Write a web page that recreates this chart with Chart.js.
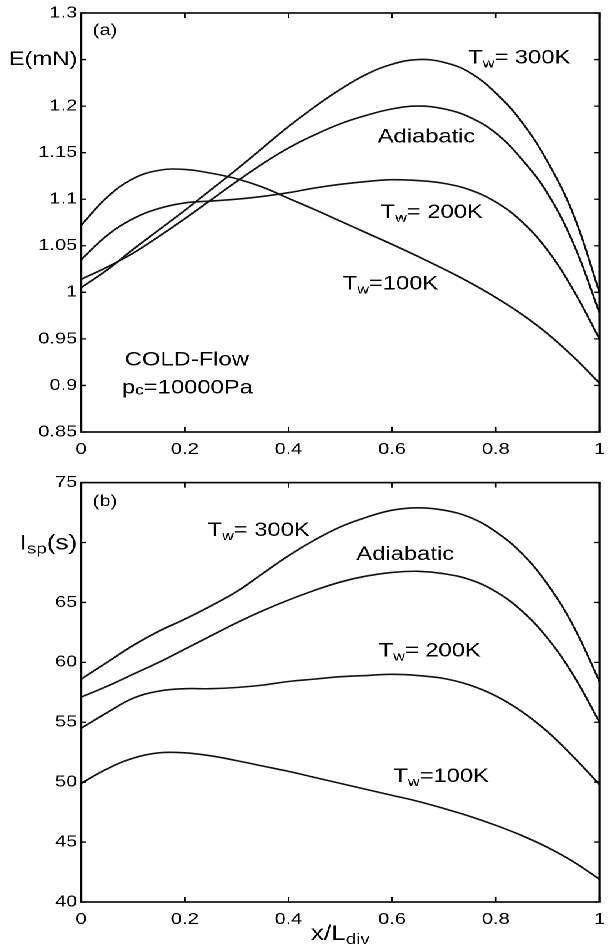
<!DOCTYPE html>
<html><head><meta charset="utf-8">
<script src="https://cdn.jsdelivr.net/npm/chart.js@4"></script>
<style>
html,body{margin:0;padding:0;background:#fff;width:615px;height:947px;overflow:hidden}
#wrap{position:absolute;left:0;top:0;width:492px;height:947px;transform:scaleX(1.25);transform-origin:0 0}
canvas{display:block}
</style></head><body>
<div id="wrap">
<canvas id="ca" style="width:492px;height:470px"></canvas>
<canvas id="cb" style="width:492px;height:477px"></canvas>
</div>
<script>
// ---------- data ----------
const xPos = [0,0.05,0.1,0.15,0.2,0.25,0.3,0.35,0.4,0.45,0.5,0.55,0.6,0.65,0.7,0.75,0.8,0.85,0.9,0.95,1];

// (a) thrust E (mN)
const thrustTw300 = [1.005,1.024,1.046,1.067,1.088,1.110,1.132,1.155,1.178,1.199,1.218,1.234,1.245,1.250,1.247,1.236,1.214,1.183,1.140,1.083,1.000];
const thrustAdiab = [1.014,1.027,1.042,1.060,1.079,1.099,1.119,1.138,1.155,1.169,1.181,1.190,1.197,1.200,1.197,1.188,1.171,1.143,1.106,1.052,0.978];
const thrustTw200 = [1.035,1.061,1.079,1.090,1.096,1.098,1.100,1.103,1.107,1.112,1.116,1.119,1.121,1.120,1.117,1.110,1.097,1.076,1.045,1.002,0.950];
const thrustTw100 = [1.072,1.102,1.122,1.131,1.132,1.128,1.122,1.113,1.101,1.089,1.0765,1.064,1.0515,1.0385,1.025,1.0105,0.9945,0.9765,0.9555,0.9305,0.9025];

// (b) specific impulse Isp (s)
const ispTw300 = [58.6,60.0,61.4,62.6,63.6,64.7,65.9,67.4,68.9,70.2,71.3,72.1,72.7,72.9,72.7,72.1,70.9,69.1,66.5,63.0,58.4];
const ispAdiab = [57.1,58.0,59.0,60.0,61.1,62.2,63.3,64.3,65.2,66.0,66.7,67.2,67.5,67.6,67.4,66.9,65.9,64.3,62.0,58.9,55.0];
const ispTw200 = [54.5,55.8,57.0,57.6,57.8,57.8,57.9,58.1,58.4,58.6,58.8,58.9,59.0,58.9,58.65,58.1,57.2,55.9,54.2,52.1,49.8];
const ispTw100 = [49.9,51.1,52.0,52.45,52.45,52.2,51.8,51.35,50.9,50.4,49.9,49.4,48.9,48.4,47.8,47.15,46.4,45.55,44.55,43.35,41.9];

// ticks
const xTickVals = [0,0.2,0.4,0.6,0.8,1];
const xTickLabels = ['0','0.2','0.4','0.6','0.8','1'];
const yTickValsA = [0.85,0.9,0.95,1,1.05,1.1,1.15,1.2,1.25,1.3];
const yTickLabelsA = ['0.85','0.9','0.95','1','1.05','1.1','1.15','1.2','E(mN)','1.3'];
const yTickValsB = [40,45,50,55,60,65,70,75];
const yTickLabelsB = ['40','45','50','55','60','65','','75'];

// ---------- styling ----------
const FAM = '"Liberation Sans", Arial, Helvetica, sans-serif';
const INK = '#000';

function pts(ys){ return xPos.map((x,i)=>({x:x,y:ys[i]})); }
function ds(ys){ return {data:pts(ys),borderColor:'#111',borderWidth:1.6,pointRadius:0,fill:false,tension:0.4}; }
function lab(vals,labels){ return v=>{ const i=vals.findIndex(t=>Math.abs(t-v)<1e-6); return i<0?'':labels[i]; }; }

function drawRich(ctx, parts, x, y, align){
  let w=0;
  parts.forEach(p=>{ ctx.font = p.size+'px '+FAM; p.w = ctx.measureText(p.text).width; w+=p.w; });
  let cx = align==='right' ? x-w : align==='center' ? x-w/2 : x;
  parts.forEach(p=>{ ctx.font = p.size+'px '+FAM; ctx.fillText(p.text, cx, y+(p.dy||0)); cx+=p.w; });
}
const TW = (t)=>[{text:'T',size:19},{text:'w',size:13,dy:4},{text:t,size:19}];

const notesA = [
  {parts:[{text:'(a)',size:16}], x:0.0225, y:1.2764},
  {parts:TW('= 300K'), x:0.7467, y:1.246},
  {parts:[{text:'Adiabatic',size:19}], x:0.5722, y:1.1608},
  {parts:TW('= 200K'), x:0.5779, y:1.0797},
  {parts:TW('=100K'), x:0.5047, y:1.0028},
  {parts:[{text:'COLD-Flow',size:19}], x:0.0844, y:0.9212},
  {parts:[{text:'p',size:19},{text:'c',size:14,dy:1},{text:'=10000Pa',size:19}], x:0.0788, y:0.8912}
];
const notesB = [
  {parts:[{text:'(b)',size:16}], x:0.0225, y:73.06},
  {parts:TW('= 300K'), x:0.2439, y:70.56},
  {parts:[{text:'Adiabatic',size:19}], x:0.531, y:68.56},
  {parts:TW('= 200K'), x:0.574, y:60.5},
  {parts:TW('=100K'), x:0.6023, y:50.0}
];

function framePlugin(notes, extra){
  return { id:'frame', afterDraw(chart){
    const {ctx, chartArea:a, scales:{x,y}} = chart;
    ctx.save();
    ctx.strokeStyle = '#000';
    ctx.lineWidth = 1.3;
    ctx.beginPath();
    x.ticks.forEach(t=>{ const p=x.getPixelForValue(t.value);
      ctx.moveTo(p,a.bottom); ctx.lineTo(p,a.bottom-5); ctx.moveTo(p,a.top); ctx.lineTo(p,a.top+5); });
    y.ticks.forEach(t=>{ const p=y.getPixelForValue(t.value);
      ctx.moveTo(a.left,p); ctx.lineTo(a.left+4,p); ctx.moveTo(a.right,p); ctx.lineTo(a.right-4,p); });
    ctx.stroke();
    ctx.lineWidth = 1.6;
    ctx.strokeRect(a.left, a.top, a.right-a.left, a.bottom-a.top);
    ctx.fillStyle = INK; ctx.textBaseline = 'alphabetic'; ctx.textAlign = 'left';
    notes.forEach(n=> drawRich(ctx, n.parts.map(p=>Object.assign({},p)), x.getPixelForValue(n.x), y.getPixelForValue(n.y), 'left'));
    if (extra) extra(ctx, chart);
    ctx.restore();
  }};
}

function makeChart(id, series, yMin, yMax, yVals, yLabels, padTop, xH, notes, extra, bigTick){
  return new Chart(document.getElementById(id), {
    type:'line',
    data:{datasets: series.map(ds)},
    options:{
      responsive:false, animation:false, devicePixelRatio:2,
      layout:{autoPadding:false, padding:{top:padTop,right:0.8,left:0,bottom:0}},
      plugins:{legend:{display:false}, tooltip:{enabled:false}},
      scales:{
        x:{type:'linear', min:0, max:1,
           afterBuildTicks(s){ s.ticks = xTickVals.map(v=>({value:v})); },
           afterFit(s){ s.height = xH; },
           grid:{display:false, drawTicks:false}, border:{display:false},
           ticks:{autoSkip:false, maxRotation:0, padding:8, color:INK, font:{family:FAM,size:16}, callback:lab(xTickVals,xTickLabels)}},
        y:{type:'linear', min:yMin, max:yMax,
           afterBuildTicks(s){ s.ticks = yVals.map(v=>({value:v})); },
           afterFit(s){ s.width = 64.8; },
           grid:{display:false, drawTicks:false}, border:{display:false},
           ticks:{autoSkip:false, padding:3, color:INK,
             font:(c)=>({family:FAM, size:(c.tick && bigTick!==null && Math.abs(c.tick.value-bigTick)<1e-6)?19:16}),
             callback:lab(yVals,yLabels)}}
      }
    },
    plugins:[framePlugin(notes, extra)]
  });
}

const cA = document.getElementById('ca'); cA.width = 492; cA.height = 470;
const cB = document.getElementById('cb'); cB.width = 492; cB.height = 477;

makeChart('ca', [thrustTw300, thrustAdiab, thrustTw200, thrustTw100], 0.85, 1.3, yTickValsA, yTickLabelsA, 13, 38, notesA, null, 1.25);

makeChart('cb', [ispTw300, ispAdiab, ispTw200, ispTw100], 40, 75, yTickValsB, yTickLabelsB, 12, 45, notesB, (ctx, chart)=>{
  const a = chart.chartArea, y = chart.scales.y;
  drawRich(ctx, [{text:'I',size:21},{text:'sp',size:15,dy:4},{text:'(s)',size:21}], a.left-3, y.getPixelForValue(70)+7, 'right');
  drawRich(ctx, [{text:'x/L',size:21},{text:'div',size:15,dy:4}], (a.left+a.right)/2, 470, 'center');
}, null);
</script>
</body></html>
